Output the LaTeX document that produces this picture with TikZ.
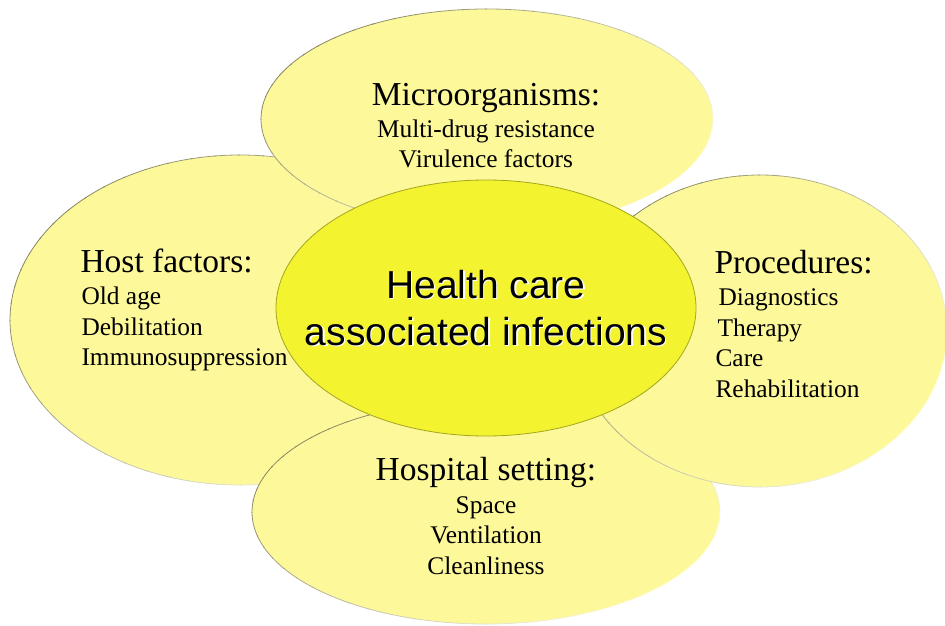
\documentclass[tikz,border=0pt]{standalone}
\usepackage{fontspec}
\setmainfont{Liberation Serif}
\newfontfamily\hubfont{Liberation Sans}
\usetikzlibrary{shapes.geometric}
\definecolor{petalfill}{RGB}{253,249,155}
\definecolor{hubfill}{RGB}{243,243,48}
\definecolor{rimdark}{RGB}{135,133,95}
\definecolor{rimlight}{RGB}{255,255,235}
\definecolor{hubrim}{RGB}{165,165,30}
\tikzset{
    petal/.style={ellipse, fill=petalfill, inner sep=0pt}, % outer ellipses
    hub/.style={ellipse, fill=hubfill, draw=hubrim, line width=0.8pt, inner sep=0pt}, % middle ellipse
    head/.style={anchor=base, font=\fontsize{33.5}{40}\selectfont},
    item/.style={anchor=base, font=\fontsize{25.4}{30}\selectfont},
    hubtext/.style={anchor=base, font=\hubfont\fontsize{39}{47}\selectfont}
}

\begin{document}
\begin{tikzpicture}[x=1pt, y=1pt]
    \useasboundingbox (0,0) rectangle (945,625);

    % petals, back to front: name / centre / radii
    \foreach \name/\x/\y/\rx/\ry in {
        host/240/305/230/165,
        micro/487/506/226/110,
        hosp/486/113/234/112,
        proc/760/294/187/156
    } {
        \node[petal, minimum width=\rx*2pt, minimum height=\ry*2pt] (\name) at (\x,\y) {};
        % rim fades from dark (upper left) to light (lower right)
        \foreach \a in {0,6,...,354} {
            \pgfmathtruncatemacro\w{50+50*cos(\a-145)}
            \draw[rimdark!\w!rimlight, line width=0.8pt]
                ([shift={(\a:{\rx*1pt} and {\ry*1pt})}]\name.center)
                arc[start angle=\a, delta angle=6.5, x radius=\rx*1pt, y radius=\ry*1pt];
        }
    }

    \node[hub, minimum width=420pt, minimum height=256pt] (hub) at (486,317) {};

    % centre title with a light halo
    \node[hubtext, white] (hub-halo-1) at (487.3,325.7) {Health care};
    \node[hubtext, white] (hub-halo-2) at (487.3,278.7) {associated infections};
    \node[hubtext] (hub-1) at (486,327) {Health care};
    \node[hubtext] (hub-2) at (486,280) {associated infections};

    % top
    \node[head] (micro-head) at (486,519) {Microorganisms:};
    \foreach \y/\labelText [count=\i] in {
        487/{Multi-drug resistance},
        457/{Virulence factors}
    } {
        \node[item] (micro-\i) at (486,\y) {\labelText};
    }

    % left
    \node[head, anchor=base west] (host-head) at (77,353) {Host factors:};
    \foreach \y/\labelText [count=\i] in {
        321/{Old age},
        290/{Debilitation},
        260/{Immunosuppression}
    } {
        \node[item, anchor=base west] (host-\i) at (78,\y) {\labelText};
    }

    % right
    \node[head, anchor=base west] (proc-head) at (711,352) {Procedures:};
    \foreach \x/\y/\labelText [count=\i] in {
        715/320/{Diagnostics},
        714/289/{Therapy},
        712/259/{Care},
        712/228/{Rehabilitation}
    } {
        \node[item, anchor=base west] (proc-\i) at (\x,\y) {\labelText};
    }

    % bottom
    \node[head] (hosp-head) at (486,145) {Hospital setting:};
    \foreach \y/\labelText [count=\i] in {
        112/{Space},
        82/{Ventilation},
        51/{Cleanliness}
    } {
        \node[item] (hosp-\i) at (486,\y) {\labelText};
    }
\end{tikzpicture}
\end{document}
